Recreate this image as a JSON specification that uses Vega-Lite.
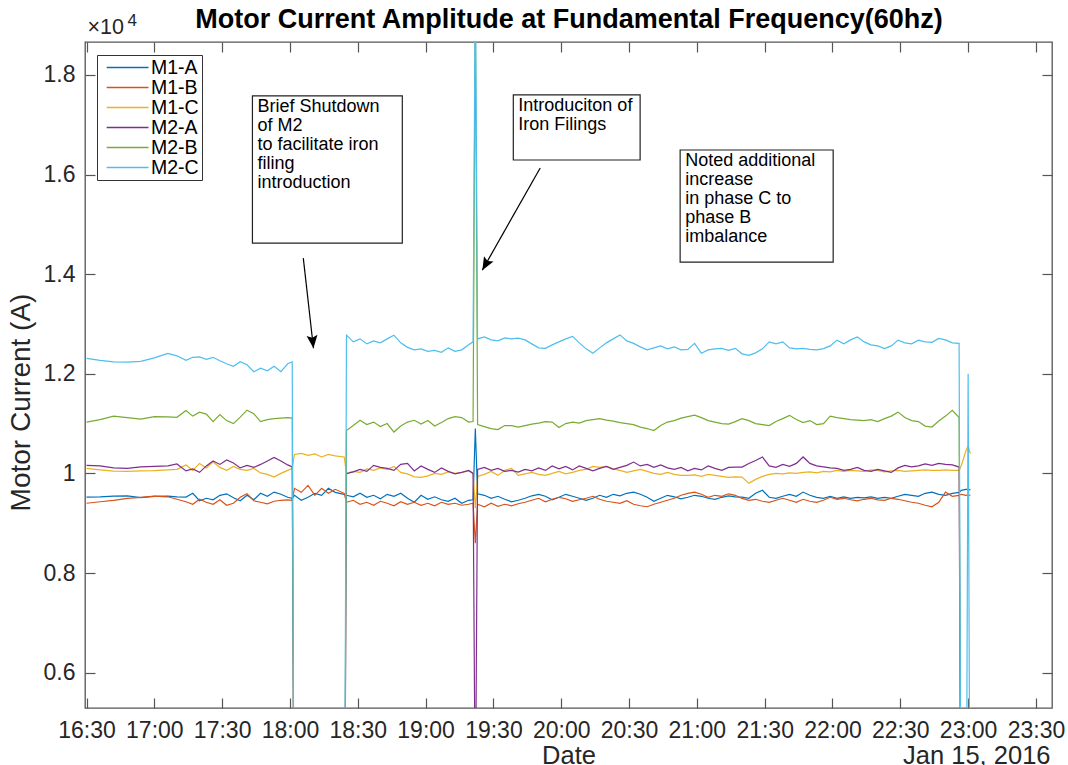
{
  "$schema": "https://vega.github.io/schema/vega-lite/v6.json",
  "width": 967,
  "height": 666,
  "autosize": {"type": "none"},
  "padding": {"left": 85, "top": 42, "right": 16, "bottom": 57},
  "datasets": {
    "series": [
      {"t":"16:30","M1-A":9524,"M1-B":9400,"M1-C":10100,"M2-A":10160,"M2-B":11030,"M2-C":12310},
      {"t":"16:36","M1-A":9530,"M1-B":9430,"M1-C":10070,"M2-A":10150,"M2-B":11080,"M2-C":12270},
      {"t":"16:42","M1-A":9545,"M1-B":9460,"M1-C":10045,"M2-A":10110,"M2-B":11150,"M2-C":12240},
      {"t":"16:48","M1-A":9550,"M1-B":9500,"M1-C":10040,"M2-A":10100,"M2-B":11120,"M2-C":12235},
      {"t":"16:54","M1-A":9515,"M1-B":9520,"M1-C":10050,"M2-A":10130,"M2-B":11090,"M2-C":12250},
      {"t":"17:00","M1-A":9540,"M1-B":9545,"M1-C":10055,"M2-A":10140,"M2-B":11140,"M2-C":12320},
      {"t":"17:06","M1-A":9545,"M1-B":9530,"M1-C":10070,"M2-A":10150,"M2-B":11135,"M2-C":12410},
      {"t":"17:10","M1-A":9530,"M1-B":9480,"M1-C":10080,"M2-A":10190,"M2-B":11125,"M2-C":12360},
      {"t":"17:14","M1-A":9525,"M1-B":9430,"M1-C":10170,"M2-A":10050,"M2-B":11260,"M2-C":12270},
      {"t":"17:17","M1-A":9600,"M1-B":9380,"M1-C":10060,"M2-A":10090,"M2-B":11150,"M2-C":12330},
      {"t":"17:20","M1-A":9450,"M1-B":9480,"M1-C":10200,"M2-A":10020,"M2-B":11230,"M2-C":12340},
      {"t":"17:23","M1-A":9500,"M1-B":9420,"M1-C":10110,"M2-A":10150,"M2-B":11190,"M2-C":12290},
      {"t":"17:26","M1-A":9470,"M1-B":9380,"M1-C":10230,"M2-A":10250,"M2-B":11040,"M2-C":12330},
      {"t":"17:29","M1-A":9560,"M1-B":9470,"M1-C":10120,"M2-A":10180,"M2-B":11180,"M2-C":12260},
      {"t":"17:32","M1-A":9590,"M1-B":9360,"M1-C":10060,"M2-A":10270,"M2-B":11060,"M2-C":12200},
      {"t":"17:35","M1-A":9510,"M1-B":9400,"M1-C":10140,"M2-A":10210,"M2-B":11000,"M2-C":12150},
      {"t":"17:38","M1-A":9450,"M1-B":9520,"M1-C":10080,"M2-A":10110,"M2-B":11130,"M2-C":12240},
      {"t":"17:41","M1-A":9560,"M1-B":9590,"M1-C":10060,"M2-A":10160,"M2-B":11270,"M2-C":12180},
      {"t":"17:44","M1-A":9470,"M1-B":9450,"M1-C":10100,"M2-A":10120,"M2-B":11200,"M2-C":12040},
      {"t":"17:47","M1-A":9600,"M1-B":9420,"M1-C":10010,"M2-A":10180,"M2-B":11040,"M2-C":12110},
      {"t":"17:50","M1-A":9540,"M1-B":9390,"M1-C":9980,"M2-A":10250,"M2-B":11080,"M2-C":12060},
      {"t":"17:53","M1-A":9625,"M1-B":9440,"M1-C":9926,"M2-A":10320,"M2-B":11100,"M2-C":12150},
      {"t":"17:56","M1-A":9580,"M1-B":9460,"M1-C":10000,"M2-A":10250,"M2-B":11110,"M2-C":12040},
      {"t":"17:59","M1-A":9520,"M1-B":9470,"M1-C":10060,"M2-A":10170,"M2-B":11120,"M2-C":12200},
      {"t":"18:01","M1-A":9500,"M1-B":9460,"M1-C":10100,"M2-A":10130,"M2-B":11110,"M2-C":12240},
      {"t":"18:02","M1-A":9560,"M1-B":9700,"M1-C":10380,"M2-A":0,"M2-B":0,"M2-C":0},
      {"t":"18:05","M1-A":9460,"M1-B":9620,"M1-C":10400,"M2-A":0,"M2-B":0,"M2-C":0},
      {"t":"18:08","M1-A":9520,"M1-B":9760,"M1-C":10360,"M2-A":0,"M2-B":0,"M2-C":0},
      {"t":"18:11","M1-A":9600,"M1-B":9560,"M1-C":10390,"M2-A":0,"M2-B":0,"M2-C":0},
      {"t":"18:14","M1-A":9560,"M1-B":9700,"M1-C":10330,"M2-A":0,"M2-B":0,"M2-C":0},
      {"t":"18:17","M1-A":9700,"M1-B":9600,"M1-C":10380,"M2-A":0,"M2-B":0,"M2-C":0},
      {"t":"18:20","M1-A":9620,"M1-B":9680,"M1-C":10350,"M2-A":0,"M2-B":0,"M2-C":0},
      {"t":"18:24","M1-A":9580,"M1-B":9600,"M1-C":10330,"M2-A":0,"M2-B":0,"M2-C":0},
      {"t":"18:25","M1-A":9560,"M1-B":9420,"M1-C":10000,"M2-A":9993,"M2-B":10860,"M2-C":12775},
      {"t":"18:28","M1-A":9530,"M1-B":9460,"M1-C":10040,"M2-A":10030,"M2-B":10960,"M2-C":12640},
      {"t":"18:31","M1-A":9600,"M1-B":9380,"M1-C":10020,"M2-A":10080,"M2-B":11066,"M2-C":12700},
      {"t":"18:34","M1-A":9520,"M1-B":9420,"M1-C":10090,"M2-A":10040,"M2-B":10980,"M2-C":12600},
      {"t":"18:37","M1-A":9560,"M1-B":9360,"M1-C":10060,"M2-A":10160,"M2-B":11030,"M2-C":12660},
      {"t":"18:40","M1-A":9490,"M1-B":9440,"M1-C":10110,"M2-A":10120,"M2-B":10940,"M2-C":12620},
      {"t":"18:43","M1-A":9580,"M1-B":9400,"M1-C":10080,"M2-A":10100,"M2-B":11000,"M2-C":12700},
      {"t":"18:46","M1-A":9540,"M1-B":9350,"M1-C":10140,"M2-A":10060,"M2-B":10830,"M2-C":12775},
      {"t":"18:49","M1-A":9600,"M1-B":9430,"M1-C":10020,"M2-A":10180,"M2-B":10950,"M2-C":12620},
      {"t":"18:52","M1-A":9500,"M1-B":9380,"M1-C":9990,"M2-A":10200,"M2-B":11030,"M2-C":12530},
      {"t":"18:55","M1-A":9420,"M1-B":9420,"M1-C":9930,"M2-A":10050,"M2-B":11066,"M2-C":12480},
      {"t":"18:58","M1-A":9560,"M1-B":9360,"M1-C":9920,"M2-A":10150,"M2-B":10990,"M2-C":12500},
      {"t":"19:01","M1-A":9480,"M1-B":9400,"M1-C":9950,"M2-A":10080,"M2-B":11060,"M2-C":12450},
      {"t":"19:04","M1-A":9530,"M1-B":9350,"M1-C":10000,"M2-A":10020,"M2-B":10950,"M2-C":12470},
      {"t":"19:07","M1-A":9470,"M1-B":9420,"M1-C":9980,"M2-A":10110,"M2-B":11020,"M2-C":12430},
      {"t":"19:10","M1-A":9440,"M1-B":9380,"M1-C":10030,"M2-A":10040,"M2-B":11100,"M2-C":12520},
      {"t":"19:13","M1-A":9500,"M1-B":9400,"M1-C":10000,"M2-A":9990,"M2-B":11140,"M2-C":12450},
      {"t":"19:16","M1-A":9400,"M1-B":9360,"M1-C":10020,"M2-A":10020,"M2-B":11120,"M2-C":12480},
      {"t":"19:19","M1-A":9460,"M1-B":9380,"M1-C":10050,"M2-A":10060,"M2-B":11030,"M2-C":12580},
      {"t":"19:21","M1-A":9470,"M1-B":9400,"M1-C":10010,"M2-A":10000,"M2-B":11040,"M2-C":12640},
      {"t":"19:22","M1-A":10900,"M1-B":8600,"M1-C":9300,"M2-A":3000,"M2-B":19500,"M2-C":20000},
      {"t":"19:23","M1-A":9590,"M1-B":9380,"M1-C":9940,"M2-A":10080,"M2-B":10980,"M2-C":12700},
      {"t":"19:26","M1-A":9560,"M1-B":9330,"M1-C":9980,"M2-A":10120,"M2-B":10940,"M2-C":12740},
      {"t":"19:29","M1-A":9500,"M1-B":9400,"M1-C":10040,"M2-A":10060,"M2-B":10900,"M2-C":12680},
      {"t":"19:32","M1-A":9540,"M1-B":9340,"M1-C":9960,"M2-A":10100,"M2-B":10880,"M2-C":12660},
      {"t":"19:35","M1-A":9480,"M1-B":9380,"M1-C":10060,"M2-A":10040,"M2-B":10960,"M2-C":12720},
      {"t":"19:38","M1-A":9430,"M1-B":9350,"M1-C":10100,"M2-A":10060,"M2-B":10960,"M2-C":12700},
      {"t":"19:41","M1-A":9460,"M1-B":9390,"M1-C":9960,"M2-A":10027,"M2-B":10930,"M2-C":12714},
      {"t":"19:44","M1-A":9500,"M1-B":9420,"M1-C":9990,"M2-A":10080,"M2-B":10960,"M2-C":12680},
      {"t":"19:47","M1-A":9550,"M1-B":9460,"M1-C":10020,"M2-A":10050,"M2-B":10990,"M2-C":12600},
      {"t":"19:50","M1-A":9580,"M1-B":9500,"M1-C":9980,"M2-A":10110,"M2-B":11010,"M2-C":12520},
      {"t":"19:53","M1-A":9540,"M1-B":9430,"M1-C":9960,"M2-A":10060,"M2-B":11040,"M2-C":12510},
      {"t":"19:56","M1-A":9470,"M1-B":9480,"M1-C":10000,"M2-A":10150,"M2-B":11030,"M2-C":12580},
      {"t":"19:59","M1-A":9520,"M1-B":9520,"M1-C":10040,"M2-A":10090,"M2-B":10920,"M2-C":12640},
      {"t":"20:02","M1-A":9580,"M1-B":9490,"M1-C":9990,"M2-A":10140,"M2-B":11000,"M2-C":12700},
      {"t":"20:05","M1-A":9540,"M1-B":9440,"M1-C":10020,"M2-A":10070,"M2-B":11030,"M2-C":12750},
      {"t":"20:08","M1-A":9500,"M1-B":9470,"M1-C":10060,"M2-A":10150,"M2-B":11010,"M2-C":12620},
      {"t":"20:11","M1-A":9460,"M1-B":9500,"M1-C":10080,"M2-A":10100,"M2-B":11060,"M2-C":12500},
      {"t":"20:14","M1-A":9500,"M1-B":9540,"M1-C":10140,"M2-A":10050,"M2-B":11080,"M2-C":12410},
      {"t":"20:17","M1-A":9560,"M1-B":9480,"M1-C":10120,"M2-A":10100,"M2-B":11100,"M2-C":12520},
      {"t":"20:20","M1-A":9520,"M1-B":9440,"M1-C":10140,"M2-A":10140,"M2-B":11070,"M2-C":12620},
      {"t":"20:23","M1-A":9580,"M1-B":9420,"M1-C":10090,"M2-A":10080,"M2-B":11050,"M2-C":12700},
      {"t":"20:26","M1-A":9550,"M1-B":9400,"M1-C":10060,"M2-A":10120,"M2-B":11020,"M2-C":12780},
      {"t":"20:29","M1-A":9600,"M1-B":9450,"M1-C":10020,"M2-A":10160,"M2-B":11000,"M2-C":12660},
      {"t":"20:32","M1-A":9625,"M1-B":9380,"M1-C":10050,"M2-A":10227,"M2-B":10980,"M2-C":12610},
      {"t":"20:35","M1-A":9580,"M1-B":9350,"M1-C":10080,"M2-A":10150,"M2-B":10930,"M2-C":12540},
      {"t":"20:38","M1-A":9520,"M1-B":9330,"M1-C":10040,"M2-A":10180,"M2-B":10900,"M2-C":12480},
      {"t":"20:41","M1-A":9440,"M1-B":9380,"M1-C":10000,"M2-A":10120,"M2-B":10860,"M2-C":12520},
      {"t":"20:44","M1-A":9500,"M1-B":9420,"M1-C":9980,"M2-A":10170,"M2-B":10960,"M2-C":12560},
      {"t":"20:47","M1-A":9560,"M1-B":9460,"M1-C":10020,"M2-A":10110,"M2-B":11030,"M2-C":12500},
      {"t":"20:50","M1-A":9530,"M1-B":9500,"M1-C":9980,"M2-A":10080,"M2-B":11060,"M2-C":12540},
      {"t":"20:53","M1-A":9490,"M1-B":9560,"M1-C":9960,"M2-A":10120,"M2-B":11110,"M2-C":12480},
      {"t":"20:56","M1-A":9520,"M1-B":9600,"M1-C":9960,"M2-A":10050,"M2-B":11140,"M2-C":12490},
      {"t":"20:59","M1-A":9560,"M1-B":9625,"M1-C":9970,"M2-A":10100,"M2-B":11170,"M2-C":12610},
      {"t":"21:02","M1-A":9540,"M1-B":9580,"M1-C":9940,"M2-A":10070,"M2-B":11120,"M2-C":12410},
      {"t":"21:05","M1-A":9500,"M1-B":9520,"M1-C":9980,"M2-A":10150,"M2-B":11060,"M2-C":12480},
      {"t":"21:08","M1-A":9480,"M1-B":9560,"M1-C":9960,"M2-A":10100,"M2-B":11030,"M2-C":12500},
      {"t":"21:11","M1-A":9520,"M1-B":9540,"M1-C":9940,"M2-A":10060,"M2-B":11000,"M2-C":12510},
      {"t":"21:14","M1-A":9550,"M1-B":9590,"M1-C":9920,"M2-A":10120,"M2-B":10990,"M2-C":12470},
      {"t":"21:17","M1-A":9530,"M1-B":9560,"M1-C":9930,"M2-A":10127,"M2-B":11040,"M2-C":12510},
      {"t":"21:20","M1-A":9524,"M1-B":9497,"M1-C":9926,"M2-A":10127,"M2-B":11100,"M2-C":12400},
      {"t":"21:23","M1-A":9500,"M1-B":9460,"M1-C":9800,"M2-A":10200,"M2-B":11060,"M2-C":12370},
      {"t":"21:26","M1-A":9600,"M1-B":9480,"M1-C":9880,"M2-A":10260,"M2-B":11000,"M2-C":12420},
      {"t":"21:29","M1-A":9660,"M1-B":9440,"M1-C":9940,"M2-A":10330,"M2-B":10980,"M2-C":12500},
      {"t":"21:32","M1-A":9520,"M1-B":9420,"M1-C":9980,"M2-A":10150,"M2-B":10960,"M2-C":12640},
      {"t":"21:35","M1-A":9500,"M1-B":9460,"M1-C":10000,"M2-A":10120,"M2-B":11040,"M2-C":12600},
      {"t":"21:38","M1-A":9540,"M1-B":9500,"M1-C":9990,"M2-A":10180,"M2-B":11100,"M2-C":12640},
      {"t":"21:41","M1-A":9580,"M1-B":9460,"M1-C":10010,"M2-A":10140,"M2-B":11165,"M2-C":12520},
      {"t":"21:44","M1-A":9540,"M1-B":9420,"M1-C":10000,"M2-A":10200,"M2-B":11080,"M2-C":12500},
      {"t":"21:47","M1-A":9625,"M1-B":9480,"M1-C":10020,"M2-A":10330,"M2-B":11020,"M2-C":12510},
      {"t":"21:50","M1-A":9560,"M1-B":9440,"M1-C":10030,"M2-A":10200,"M2-B":11060,"M2-C":12490},
      {"t":"21:53","M1-A":9520,"M1-B":9420,"M1-C":10010,"M2-A":10150,"M2-B":10980,"M2-C":12480},
      {"t":"21:56","M1-A":9500,"M1-B":9460,"M1-C":10040,"M2-A":10130,"M2-B":11000,"M2-C":12505},
      {"t":"21:59","M1-A":9540,"M1-B":9520,"M1-C":10030,"M2-A":10110,"M2-B":11150,"M2-C":12560},
      {"t":"22:02","M1-A":9500,"M1-B":9480,"M1-C":10060,"M2-A":10100,"M2-B":11120,"M2-C":12675},
      {"t":"22:05","M1-A":9530,"M1-B":9500,"M1-C":10040,"M2-A":10060,"M2-B":11100,"M2-C":12600},
      {"t":"22:08","M1-A":9500,"M1-B":9470,"M1-C":10060,"M2-A":10080,"M2-B":11080,"M2-C":12680},
      {"t":"22:11","M1-A":9520,"M1-B":9450,"M1-C":10050,"M2-A":10120,"M2-B":11070,"M2-C":12740},
      {"t":"22:14","M1-A":9510,"M1-B":9480,"M1-C":10040,"M2-A":10060,"M2-B":11060,"M2-C":12640},
      {"t":"22:17","M1-A":9530,"M1-B":9500,"M1-C":10070,"M2-A":10040,"M2-B":11080,"M2-C":12580},
      {"t":"22:20","M1-A":9500,"M1-B":9470,"M1-C":10060,"M2-A":10080,"M2-B":11040,"M2-C":12560},
      {"t":"22:23","M1-A":9520,"M1-B":9460,"M1-C":10030,"M2-A":10050,"M2-B":11100,"M2-C":12505},
      {"t":"22:26","M1-A":9500,"M1-B":9500,"M1-C":10050,"M2-A":10020,"M2-B":11150,"M2-C":12560},
      {"t":"22:29","M1-A":9540,"M1-B":9480,"M1-C":10060,"M2-A":10110,"M2-B":11230,"M2-C":12675},
      {"t":"22:32","M1-A":9580,"M1-B":9450,"M1-C":10040,"M2-A":10160,"M2-B":11120,"M2-C":12620},
      {"t":"22:35","M1-A":9560,"M1-B":9420,"M1-C":10050,"M2-A":10130,"M2-B":11060,"M2-C":12600},
      {"t":"22:38","M1-A":9540,"M1-B":9400,"M1-C":10060,"M2-A":10150,"M2-B":11040,"M2-C":12675},
      {"t":"22:41","M1-A":9600,"M1-B":9360,"M1-C":10070,"M2-A":10190,"M2-B":10950,"M2-C":12640},
      {"t":"22:44","M1-A":9625,"M1-B":9330,"M1-C":10060,"M2-A":10160,"M2-B":10930,"M2-C":12630},
      {"t":"22:47","M1-A":9580,"M1-B":9420,"M1-C":10060,"M2-A":10200,"M2-B":11050,"M2-C":12710},
      {"t":"22:50","M1-A":9560,"M1-B":9625,"M1-C":10070,"M2-A":10180,"M2-B":11150,"M2-C":12680},
      {"t":"22:53","M1-A":9600,"M1-B":9540,"M1-C":10060,"M2-A":10170,"M2-B":11265,"M2-C":12620},
      {"t":"22:56","M1-A":9620,"M1-B":9560,"M1-C":10060,"M2-A":10127,"M2-B":11120,"M2-C":12610},
      {"t":"22:57","M1-A":9660,"M1-B":9580,"M1-C":10160,"M2-A":0,"M2-B":0,"M2-C":0},
      {"t":"22:59","M1-A":9680,"M1-B":9560,"M1-C":10450,"M2-A":0,"M2-B":0,"M2-C":0},
      {"t":"23:00","M1-A":9680,"M1-B":9570,"M1-C":10550,"M2-A":0,"M2-B":0,"M2-C":12000},
      {"t":"23:01","M1-A":9670,"M1-B":9560,"M1-C":10400,"M2-A":0,"M2-B":0,"M2-C":0}
    ]
  },
  "layer": [
    {
      "data": {"name": "series", "format": {"parse": {"t": "date:'%H:%M'"}}},
      "transform": [{"fold": ["M1-A","M1-B","M1-C","M2-A","M2-B","M2-C"], "as": ["series","current"]}],
      "mark": {"type": "line", "strokeWidth": 1.2, "clip": true},
      "encoding": {
        "x": {"field": "t", "type": "temporal",
          "scale": {"domain": [{"year":1900,"month":1,"date":1,"hours":16,"minutes":29,"seconds":20},{"year":1900,"month":1,"date":1,"hours":23,"minutes":37,"seconds":6}]},
          "axis": {"orient": "bottom", "format": "%H:%M", "labelFlush": false, "labelOverlap": false, "labelBound": false,
            "values": [{"year":1900,"month":1,"date":1,"hours":16,"minutes":30},{"year":1900,"month":1,"date":1,"hours":17,"minutes":0},{"year":1900,"month":1,"date":1,"hours":17,"minutes":30},{"year":1900,"month":1,"date":1,"hours":18,"minutes":0},{"year":1900,"month":1,"date":1,"hours":18,"minutes":30},{"year":1900,"month":1,"date":1,"hours":19,"minutes":0},{"year":1900,"month":1,"date":1,"hours":19,"minutes":30},{"year":1900,"month":1,"date":1,"hours":20,"minutes":0},{"year":1900,"month":1,"date":1,"hours":20,"minutes":30},{"year":1900,"month":1,"date":1,"hours":21,"minutes":0},{"year":1900,"month":1,"date":1,"hours":21,"minutes":30},{"year":1900,"month":1,"date":1,"hours":22,"minutes":0},{"year":1900,"month":1,"date":1,"hours":22,"minutes":30},{"year":1900,"month":1,"date":1,"hours":23,"minutes":0},{"year":1900,"month":1,"date":1,"hours":23,"minutes":30}],
            "title": "Date", "titleY": 55, "titleBaseline": "alphabetic"}},
        "y": {"field": "current", "type": "quantitative",
          "scale": {"domain": [5290, 18660], "nice": false, "zero": false},
          "axis": {"orient": "left", "values": [6000,8000,10000,12000,14000,16000,18000], "labelExpr": "'' + (datum.value/10000)", "labelPadding": 20,
            "title": "Motor Current (A)", "titleX": -56, "titleY": 360, "titleBaseline": "alphabetic", "titleAlign": "center", "titleFontSize": 28}},
        "color": {"field": "series", "type": "nominal",
          "scale": {"domain": ["M1-A","M1-B","M1-C","M2-A","M2-B","M2-C"], "range": ["#0072BD","#D95319","#EDB120","#7E2F8E","#77AC30","#4DBEEE"]},
          "legend": {"title": null, "orient": "none", "legendX": 12, "legendY": 13}}
      }
    },
    {
      "data": {"values": [
        {"t1":"1900-01-01T17:43:24","t2":"1900-01-01T18:49:42","v1":17578,"v2":14623},
        {"t1":"1900-01-01T19:38:48","t2":"1900-01-01T20:34:54","v1":17598,"v2":16291},
        {"t1":"1900-01-01T20:52:36","t2":"1900-01-01T22:00:18","v1":16492,"v2":14241}
      ]},
      "mark": {"type": "rect", "fill": "#ffffff", "stroke": "#222222", "strokeWidth": 1.2},
      "encoding": {
        "x": {"field": "t1", "type": "temporal",
          "scale": {"domain": [{"year":1900,"month":1,"date":1,"hours":16,"minutes":29,"seconds":20},{"year":1900,"month":1,"date":1,"hours":23,"minutes":37,"seconds":6}]},
          "axis": {"orient": "top", "labels": false,
            "values": [{"year":1900,"month":1,"date":1,"hours":16,"minutes":30},{"year":1900,"month":1,"date":1,"hours":17,"minutes":0},{"year":1900,"month":1,"date":1,"hours":17,"minutes":30},{"year":1900,"month":1,"date":1,"hours":18,"minutes":0},{"year":1900,"month":1,"date":1,"hours":18,"minutes":30},{"year":1900,"month":1,"date":1,"hours":19,"minutes":0},{"year":1900,"month":1,"date":1,"hours":19,"minutes":30},{"year":1900,"month":1,"date":1,"hours":20,"minutes":0},{"year":1900,"month":1,"date":1,"hours":20,"minutes":30},{"year":1900,"month":1,"date":1,"hours":21,"minutes":0},{"year":1900,"month":1,"date":1,"hours":21,"minutes":30},{"year":1900,"month":1,"date":1,"hours":22,"minutes":0},{"year":1900,"month":1,"date":1,"hours":22,"minutes":30},{"year":1900,"month":1,"date":1,"hours":23,"minutes":0},{"year":1900,"month":1,"date":1,"hours":23,"minutes":30}],
            "title": "Motor Current Amplitude at Fundamental Frequency(60hz)", "titleX": 483.5, "titleY": -15, "titleAlign": "center", "titleBaseline": "alphabetic", "titleFontSize": 27, "titleFontWeight": "bold", "titleColor": "#000000"}},
        "x2": {"field": "t2"},
        "y": {"field": "v1", "type": "quantitative",
          "scale": {"domain": [5290, 18660], "nice": false, "zero": false},
          "axis": {"orient": "right", "labels": false, "values": [6000,8000,10000,12000,14000,16000,18000],
            "title": "×10", "titleAngle": 0, "titleX": -965, "titleY": -9, "titleAlign": "left", "titleBaseline": "alphabetic", "titleFontSize": 21.5}},
        "y2": {"field": "v2"}
      }
    },
    {
      "data": {"values": [
        {"t1":"1900-01-01T17:43:24","v1":17578,"label":"Brief Shutdown\nof M2\nto facilitate iron\nfiling\nintroduction"},
        {"t1":"1900-01-01T19:38:48","v1":17598,"label":"Introduciton of\nIron Filings"},
        {"t1":"1900-01-01T20:52:36","v1":16492,"label":"Noted additional\nincrease\nin phase C to\nphase B\nimbalance"}
      ]},
      "mark": {"type": "text", "align": "left", "baseline": "top", "dx": 5, "dy": 2, "fontSize": 18, "lineHeight": 19, "lineBreak": "\n", "font": "Liberation Sans", "color": "#000000"},
      "encoding": {
        "x": {"field": "t1", "type": "temporal",
          "scale": {"domain": [{"year":1900,"month":1,"date":1,"hours":16,"minutes":29,"seconds":20},{"year":1900,"month":1,"date":1,"hours":23,"minutes":37,"seconds":6}]},
          "axis": {"orient": "bottom", "labels": false, "ticks": false, "domain": false, "title": "Jan 15, 2016", "titleX": 965, "titleY": 55, "titleAlign": "right", "titleBaseline": "alphabetic"}},
        "y": {"field": "v1", "type": "quantitative", "scale": {"domain": [5290, 18660], "nice": false, "zero": false}, "axis": null},
        "text": {"field": "label"}
      }
    },
    {
      "data": {"values": [
        {"id":1,"t1":"1900-01-01T18:05:54","v1":14322,"t2":"1900-01-01T18:10:24","v2":12513},
        {"id":2,"t1":"1900-01-01T19:50:42","v1":16131,"t2":"1900-01-01T19:25:06","v2":14080}
      ]},
      "mark": {"type": "rule", "color": "#000000", "strokeWidth": 1.2},
      "encoding": {
        "x": {"field": "t1", "type": "temporal", "scale": {"domain": [{"year":1900,"month":1,"date":1,"hours":16,"minutes":29,"seconds":20},{"year":1900,"month":1,"date":1,"hours":23,"minutes":37,"seconds":6}]}, "axis": null},
        "x2": {"field": "t2"},
        "y": {"field": "v1", "type": "quantitative", "scale": {"domain": [5290, 18660], "nice": false, "zero": false},
          "axis": {"orient": "left", "labels": false, "ticks": false, "domain": false, "title": "4", "titleAngle": 0, "titleX": 42, "titleY": -17, "titleAlign": "left", "titleBaseline": "alphabetic", "titleFontSize": 17}},
        "y2": {"field": "v2"}
      }
    },
    {
      "data": {"values": [
        {"id":1,"t2":"1900-01-01T18:10:24","v2":12513}
      ]},
      "mark": {"type": "point", "shape": "M0,0L-0.42,-1L0,-0.8L0.42,-1Z", "filled": true, "color": "#000000", "opacity": 1, "size": 676, "angle": -6.3},
      "encoding": {
        "x": {"field": "t2", "type": "temporal", "scale": {"domain": [{"year":1900,"month":1,"date":1,"hours":16,"minutes":29,"seconds":20},{"year":1900,"month":1,"date":1,"hours":23,"minutes":37,"seconds":6}]}, "axis": null},
        "y": {"field": "v2", "type": "quantitative", "scale": {"domain": [5290, 18660], "nice": false, "zero": false}, "axis": null}
      }
    },
    {
      "data": {"values": [
        {"id":2,"t2":"1900-01-01T19:25:06","v2":14080}
      ]},
      "mark": {"type": "point", "shape": "M0,0L-0.42,-1L0,-0.8L0.42,-1Z", "filled": true, "color": "#000000", "opacity": 1, "size": 676, "angle": 29.6},
      "encoding": {
        "x": {"field": "t2", "type": "temporal", "scale": {"domain": [{"year":1900,"month":1,"date":1,"hours":16,"minutes":29,"seconds":20},{"year":1900,"month":1,"date":1,"hours":23,"minutes":37,"seconds":6}]}, "axis": null},
        "y": {"field": "v2", "type": "quantitative", "scale": {"domain": [5290, 18660], "nice": false, "zero": false}, "axis": null}
      }
    }
  ],
  "resolve": {"axis": {"x": "independent", "y": "independent"}},
  "config": {
    "font": "Liberation Sans",
    "background": "#ffffff",
    "view": {"stroke": "#555555", "strokeWidth": 1.3},
    "axis": {"grid": false, "domain": false, "tickSize": -10, "tickColor": "#555555", "tickWidth": 1.2,
      "labelFont": "Liberation Sans", "labelFontSize": 23, "labelColor": "#262626", "labelPadding": 21,
      "titleFont": "Liberation Sans", "titleFontSize": 25.5, "titleFontWeight": "normal", "titleColor": "#262626"},
    "legend": {"symbolType": "M-0.4,0H4.0", "symbolSize": 361, "symbolStrokeWidth": 1.5, "clipHeight": 19,
      "labelFont": "Liberation Sans", "labelFontSize": 19.5, "labelColor": "#000000", "labelOffset": 30,
      "strokeColor": "#333333", "fillColor": "#ffffff", "padding": 3, "rowPadding": 0}
  }
}
